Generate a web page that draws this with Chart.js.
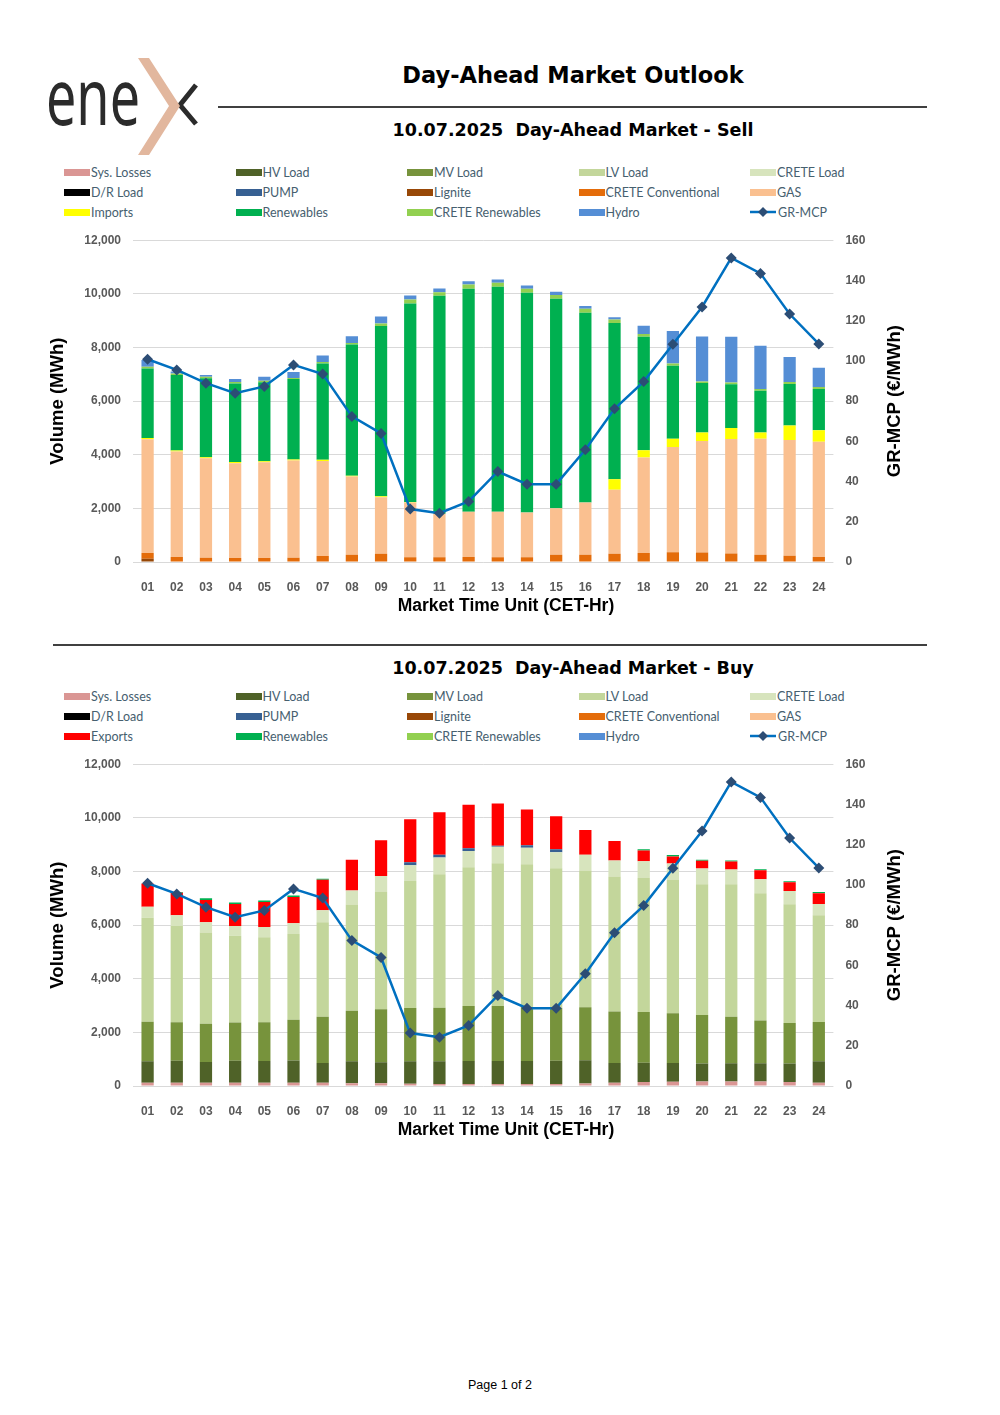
<!DOCTYPE html>
<html lang="en">

<head>
    <meta charset="UTF-8">
    <title>Day-Ahead Market Outlook</title>
    <style>
        body { margin: 0; background: #fff; }
        .page { position: relative; width: 1000px; height: 1415px; overflow: hidden; }
        .title { position: absolute; left: 218px; width: 710px; text-align: center; font-family: "DejaVu Sans"; font-weight: bold; color: #000; white-space: pre; }
        .rule { position: absolute; background: #404040; }
        .legend { position: absolute; left: 64px; display: grid; grid-template-columns: repeat(5, 171.5px); font-family: Lato; font-size: 12.5px; color: #46606F; }
        .legend div { height: 20px; display: flex; align-items: center; white-space: nowrap; }
        .legend .sw { display: inline-block; width: 26px; height: 7px; margin-right: 1px; }
        .chartbox { position: absolute; left: 40px; }
        .footer { position: absolute; top: 1378px; width: 1000px; text-align: center; font-family: "Liberation Sans"; font-size: 12.5px; color: #000; }
    </style>
</head>

<body>
<div class="page">
    <svg width="220" height="170" style="position:absolute;left:0;top:0">
        <text x="46" y="125" font-family="Noto Sans" font-size="78" fill="#2b2b2b" textLength="94" lengthAdjust="spacingAndGlyphs">ene</text>
        <polyline points="196,85 180,105 196,124" fill="none" stroke="#2b2b2b" stroke-width="5"/>
        <polygon points="138,58 149,58 180,106 149,155 138,155 169,106" fill="#E2B79E"/>
    </svg>

    <div class="title" style="top:62px;font-size:22.5px">Day-Ahead Market Outlook</div>
    <div class="rule" style="left:218px;top:106px;width:709px;height:1.5px"></div>
    <div class="title" style="top:120px;font-size:17.5px">10.07.2025  Day-Ahead Market - Sell</div>
    <div class="legend" id="legend-sell" style="top:162px"></div>
    <div class="chartbox" style="top:221px"><canvas id="sell" width="880" height="404"></canvas></div>

    <div class="rule" style="left:53px;top:644px;width:874px;height:2px"></div>
    <div class="title" style="top:658px;font-size:17.5px">10.07.2025  Day-Ahead Market - Buy</div>
    <div class="legend" id="legend-buy" style="top:686px"></div>
    <div class="chartbox" style="top:745px"><canvas id="buy" width="880" height="404"></canvas></div>

    <div class="footer">Page 1 of 2</div>
</div>

<script src="https://cdn.jsdelivr.net/npm/chart.js"></script>
<script>
    const hours = ['01', '02', '03', '04', '05', '06', '07', '08', '09', '10', '11', '12',
        '13', '14', '15', '16', '17', '18', '19', '20', '21', '22', '23', '24'];

    // GR-MCP (€/MWh), same for both charts
    const mcp = [100.8, 95.5, 88.9, 83.9, 87.3, 98.0, 93.5, 72.4, 63.9, 26.3, 24.3, 30.1,
        45.0, 38.7, 38.7, 55.8, 76.2, 89.7, 108.3, 126.8, 151.2, 143.5, 123.3, 108.4];

    // sell side (MWh)
    const sellLignite = [120, 0, 0, 0, 0, 0, 0, 0, 0, 0, 0, 0, 0, 0, 0, 0, 0, 0, 0, 0, 0, 0, 0, 0];
    const sellCreteConv = [220, 190, 160, 150, 150, 160, 220, 270, 310, 175, 175, 185,
        175, 175, 270, 270, 310, 335, 360, 350, 320, 270, 235, 185];
    const sellGas = [4240, 3930, 3710, 3535, 3570, 3625, 3550, 2920, 2100, 2045, 1625, 1690,
        1700, 1675, 1730, 1950, 2380, 3565, 3930, 4165, 4270, 4330, 4315, 4295];
    const sellImports = [40, 40, 40, 40, 40, 40, 40, 30, 40, 20, 0, 0,
        0, 0, 0, 0, 400, 270, 310, 310, 410, 225, 540, 435];
    const sellRenewables = [2600, 2810, 2940, 2935, 2940, 2995, 3590, 4890, 6350, 7400, 8125, 8310,
        8385, 8190, 7815, 7070, 5820, 4230, 2720, 1850, 1625, 1565, 1550, 1535];
    const sellCreteRen = [60, 60, 60, 50, 60, 40, 60, 60, 90, 150, 135, 165,
        150, 145, 145, 150, 135, 100, 85, 60, 65, 60, 70, 75];
    const sellHydro = [250, 70, 60, 110, 150, 225, 240, 250, 265, 150, 140, 120,
        120, 125, 115, 110, 85, 310, 1205, 1675, 1710, 1615, 930, 720];

    // buy side (MWh)
    const buySysLosses = [120, 120, 120, 120, 120, 120, 120, 100, 100, 80, 70, 70,
        70, 70, 70, 90, 120, 150, 160, 170, 170, 170, 150, 120];
    const buyHV = [800, 825, 775, 825, 810, 835, 740, 820, 785, 840, 850, 860,
        865, 865, 875, 870, 740, 720, 700, 665, 675, 675, 685, 800];
    const buyMV = [1480, 1430, 1430, 1420, 1445, 1520, 1725, 1890, 1975, 1990, 2000, 2055,
        2050, 2015, 1965, 1975, 1915, 1890, 1850, 1815, 1740, 1595, 1515, 1470];
    const buyLV = [3870, 3595, 3395, 3235, 3170, 3195, 3525, 3955, 4390, 4730, 4980, 5175,
        5325, 5320, 5210, 5100, 5035, 5000, 4975, 4875, 4940, 4750, 4430, 3975];
    const buyCreteLoad = [410, 400, 385, 370, 385, 400, 445, 525, 585, 595, 620, 600,
        610, 610, 600, 585, 595, 620, 610, 585, 550, 520, 495, 425];
    const buyPump = [0, 0, 0, 0, 0, 0, 0, 0, 0, 110, 100, 110,
        35, 100, 110, 0, 0, 0, 0, 0, 0, 0, 0, 0];
    const buyExports = [870, 840, 835, 820, 935, 980, 1135, 1145, 1330, 1605, 1590, 1615,
        1580, 1330, 1230, 930, 735, 400, 265, 290, 295, 335, 325, 395];
    const buyRenewables = [0, 20, 60, 50, 50, 50, 35, 0, 0, 0, 0, 0,
        0, 0, 0, 0, 0, 50, 50, 35, 40, 40, 35, 50];

    const colors = {
        'Sys. Losses': '#DA9694', 'HV Load': '#4F6228', 'MV Load': '#77933C', 'LV Load': '#C3D69B',
        'CRETE Load': '#D7E4BD', 'D/R Load': '#000000', 'PUMP': '#376092', 'Lignite': '#984807',
        'CRETE Conventional': '#E46C0A', 'GAS': '#FAC090', 'Imports': '#FFFF00', 'Exports': '#FF0000',
        'Renewables': '#00B050', 'CRETE Renewables': '#92D050', 'Hydro': '#558ED5'
    };
    const lineColor = '#0070C0';
    const markerColor = '#2C4D75';

    const legendSell = ['Sys. Losses', 'HV Load', 'MV Load', 'LV Load', 'CRETE Load',
        'D/R Load', 'PUMP', 'Lignite', 'CRETE Conventional', 'GAS',
        'Imports', 'Renewables', 'CRETE Renewables', 'Hydro', 'GR-MCP'];
    const legendBuy = legendSell.map(n => n === 'Imports' ? 'Exports' : n);

    function buildLegend(id, names) {
        const el = document.getElementById(id);
        names.forEach(name => {
            const item = document.createElement('div');
            if (name === 'GR-MCP') {
                item.innerHTML = '<svg width="27" height="12" style="margin-right:1px"><line x1="0" y1="6" x2="26" y2="6" stroke="' + lineColor +
                    '" stroke-width="2.5"/><polygon points="13,1 18,6 13,11 8,6" fill="' + markerColor + '"/></svg>' + name;
            } else {
                item.innerHTML = '<span class="sw" style="background:' + colors[name] + '"></span>' + name;
            }
            el.appendChild(item);
        });
    }
    buildLegend('legend-sell', legendSell);
    buildLegend('legend-buy', legendBuy);

    const boldFont = '"Liberation Sans"';

    // right axis title reads bottom-to-top, and x title sits right of centre
    const extraTitles = {
        id: 'extraTitles',
        afterDraw(chart) {
            const { ctx, chartArea } = chart;
            ctx.save();
            ctx.fillStyle = '#000';
            ctx.textAlign = 'center';
            ctx.textBaseline = 'middle';
            ctx.font = 'bold 17.5px ' + boldFont;
            ctx.fillText('Market Time Unit (CET-Hr)', chartArea.left + 373, chartArea.bottom + 44);
            ctx.font = 'bold 18.5px ' + boldFont;
            ctx.translate(chartArea.right + 62, (chartArea.top + chartArea.bottom) / 2);
            ctx.rotate(-Math.PI / 2);
            ctx.fillText('GR-MCP (€/MWh)', 0, 0);
            ctx.restore();
        }
    };

    const tickFont = { family: boldFont, weight: 'bold', size: 12 };

    function makeChart(id, bars) {
        const datasets = [{
            type: 'line',
            label: 'GR-MCP',
            data: mcp,
            yAxisID: 'y1',
            order: 0,
            borderColor: lineColor,
            borderWidth: 2.5,
            pointStyle: 'rectRot',
            pointRadius: 5.5,
            pointBackgroundColor: markerColor,
            pointBorderColor: markerColor,
            pointBorderWidth: 0,
            tension: 0
        }];
        bars.forEach(b => datasets.push({
            type: 'bar',
            label: b[0],
            data: b[1],
            yAxisID: 'y',
            order: 1,
            backgroundColor: colors[b[0]],
            borderWidth: 0,
            barPercentage: 0.42,
            categoryPercentage: 1
        }));

        return new Chart(document.getElementById(id), {
            data: { labels: hours, datasets: datasets },
            plugins: [extraTitles],
            options: {
                responsive: false,
                animation: false,
                layout: { padding: 0 },
                plugins: { legend: { display: false }, tooltip: { enabled: false } },
                scales: {
                    x: {
                        stacked: true,
                        grid: { display: false },
                        border: { display: false },
                        ticks: { color: '#595959', font: tickFont, padding: 10 },
                        afterFit: s => { s.height = 63; }
                    },
                    y: {
                        stacked: true,
                        min: 0,
                        max: 12000,
                        ticks: { stepSize: 2000, padding: 12, color: '#595959', font: tickFont,
                            callback: v => v.toLocaleString('en-US') },
                        grid: { color: '#D9D9D9', drawTicks: false },
                        border: { display: false },
                        title: { display: true, text: 'Volume (MWh)', color: '#000',
                            font: { family: boldFont, weight: 'bold', size: 18.5 }, padding: { top: 7, bottom: 0 } },
                        afterFit: s => { s.width = 93; }
                    },
                    y1: {
                        position: 'right',
                        min: 0,
                        max: 160,
                        ticks: { stepSize: 20, padding: 12, color: '#595959', font: tickFont },
                        grid: { display: false, drawTicks: false },
                        border: { display: false },
                        afterFit: s => { s.width = 86.6; }
                    }
                }
            }
        });
    }

    makeChart('sell', [
        ['Lignite', sellLignite],
        ['CRETE Conventional', sellCreteConv],
        ['GAS', sellGas],
        ['Imports', sellImports],
        ['Renewables', sellRenewables],
        ['CRETE Renewables', sellCreteRen],
        ['Hydro', sellHydro]
    ]);
    makeChart('buy', [
        ['Sys. Losses', buySysLosses],
        ['HV Load', buyHV],
        ['MV Load', buyMV],
        ['LV Load', buyLV],
        ['CRETE Load', buyCreteLoad],
        ['PUMP', buyPump],
        ['Exports', buyExports],
        ['Renewables', buyRenewables]
    ]);
</script>
</body>

</html>
